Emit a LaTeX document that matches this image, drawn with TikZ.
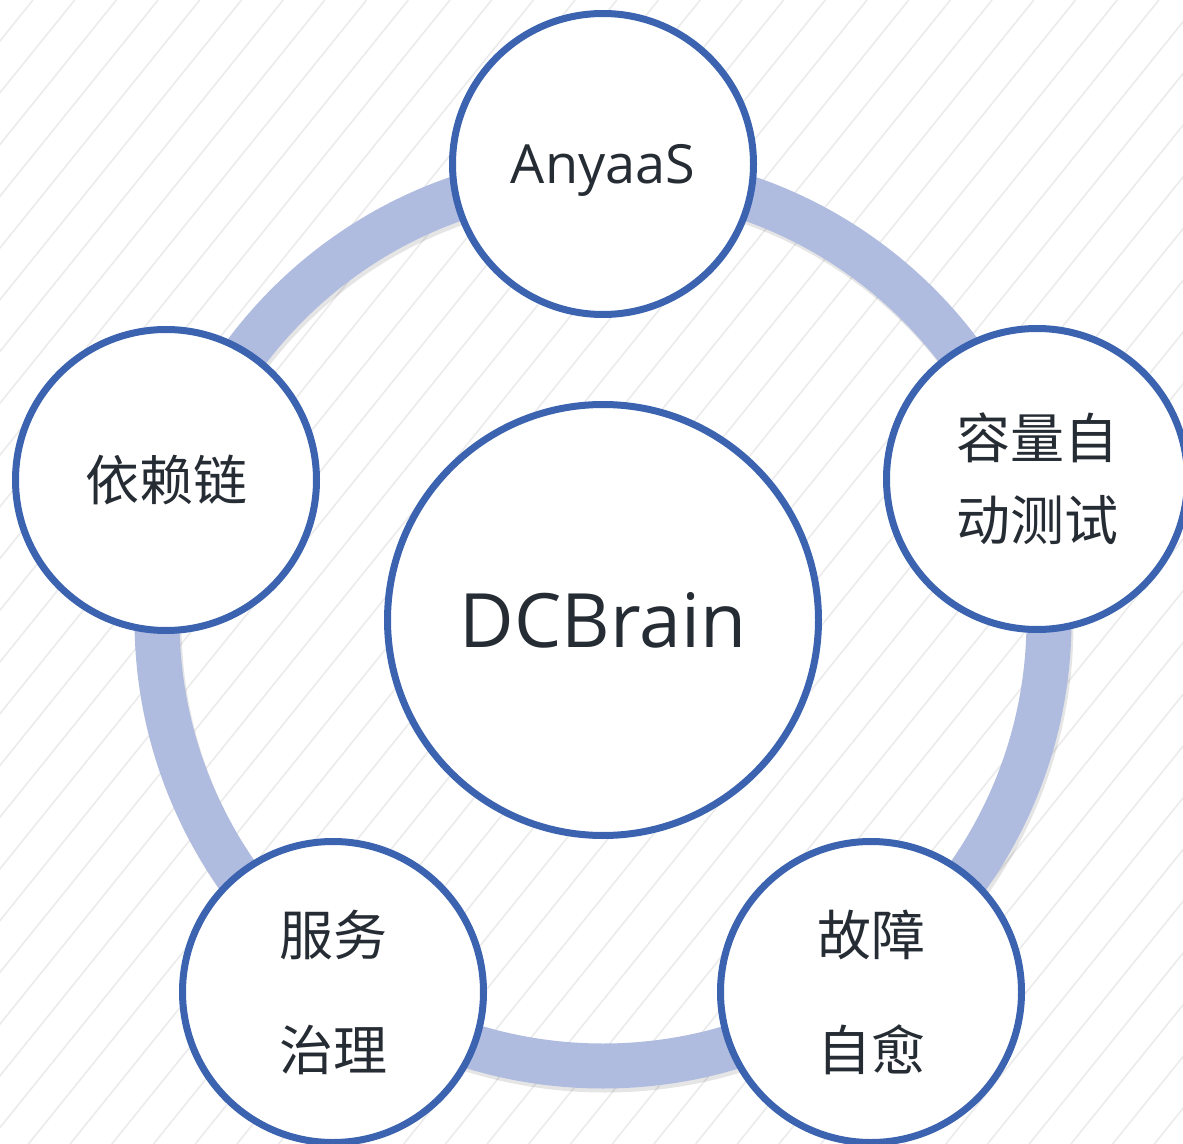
\documentclass[tikz,border=0pt]{standalone}
\usepackage{fontspec}
\setmainfont{Open Sans}
\newfontfamily\cjk{Noto Sans CJK SC}
\usetikzlibrary{shadows}

\definecolor{ringblue}{HTML}{AFBCDF}
\definecolor{edgeblue}{HTML}{3B63B0}
\definecolor{inkgray}{HTML}{262C33}
\definecolor{hatchgray}{HTML}{EBEBEB}

\tikzset{
    hatchline/.style={hatchgray, line width=0.8pt},
    ringline/.style={ringblue, line width=22.5pt},
    bubble/.style={circle, draw=edgeblue, line width=3.5pt, fill=white,
        minimum size=150.5pt, inner sep=0pt, text=inkgray, align=center,
        drop shadow={shadow xshift=0pt, shadow yshift=-1.2pt, opacity=0.18}},
    hub/.style={bubble, minimum size=215.5pt, font=\fontsize{37.5}{42}\selectfont},
    latintext/.style={font=\fontsize{27}{32}\selectfont, text depth=0pt},
    cjktext/.style={font=\cjk\fontsize{27}{41}\selectfont},
    widegap/.style={font=\cjk\fontsize{27}{57.5}\selectfont}
}

\begin{document}
\begin{tikzpicture}[x=0.5pt, y=-0.5pt]
        \useasboundingbox (0,0) rectangle (1183,1144);

        \begin{scope}
            \clip (0,0) rectangle (1183,1144);
            \foreach \k in {0,...,51}
                \draw[hatchline] ({33+41.7*\k},0) -- ++(-922,1144);
        \end{scope}

        \coordinate (M) at (603,620);

        \draw[black, opacity=0.10, line width=22.5pt] ([shift={(2,4)}]M) circle (446);
        \draw[ringline] (M) circle (446);

        \node[hub] (O) at (M) {DCBrain};
        \node[bubble, latintext] (A) at (603,164) {AnyaaS};
        \node[bubble, cjktext] (B) at (1037,479) {容量自\\动测试};
        \node[bubble, widegap] (C) at (871,992) {故障\\自愈};
        \node[bubble, widegap] (D) at (333,992) {服务\\治理};
        \node[bubble, cjktext] (E) at (166,480) {依赖链};
    \end{tikzpicture}
\end{document}
